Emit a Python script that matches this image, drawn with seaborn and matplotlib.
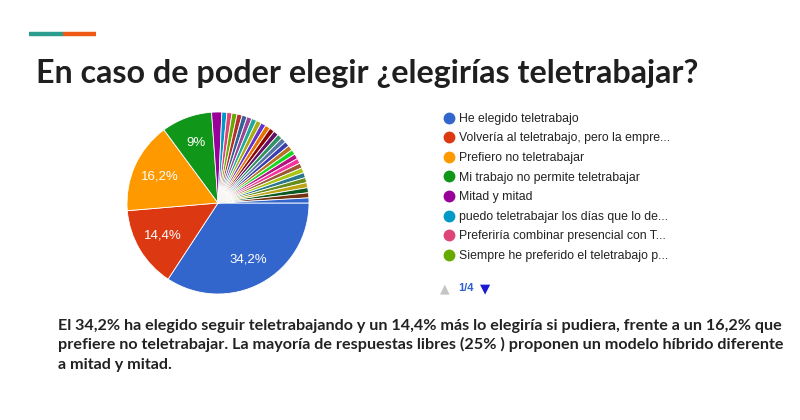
import matplotlib
matplotlib.use("Agg")
import matplotlib.pyplot as plt
from matplotlib.lines import Line2D
import seaborn as sns

# respuestas (111 en total), en el orden de la encuesta
respuestas = [38, 16, 18, 10, 2, 1, 1, 1, 1, 1, 1, 1, 1, 1, 1, 1,
              1, 1, 1, 1, 1, 1, 1, 1, 1, 1, 1, 1, 1, 1, 1, 1]
leyenda = [
    "He elegido teletrabajo",
    "Volvería al teletrabajo, pero la empre...",
    "Prefiero no teletrabajar",
    "Mi trabajo no permite teletrabajar",
    "Mitad y mitad",
    "puedo teletrabajar los días que lo de...",
    "Preferiría combinar presencial con T...",
    "Siempre he preferido el teletrabajo p...",
]
google = ["#3366cc", "#dc3912", "#ff9900", "#109618", "#990099", "#0099c6",
          "#dd4477", "#66aa00", "#b82e2e", "#316395", "#994499", "#22aa99",
          "#aaaa11", "#6633cc", "#e67300", "#8b0707", "#651067", "#329262",
          "#5574a6", "#3b3eac", "#b77322", "#16d620", "#b91383", "#f4359e",
          "#9c5935", "#a9c413", "#2a778d", "#668d1c", "#bea413", "#0c5922",
          "#743411"]

titulo = "En caso de poder elegir ¿elegirías teletrabajar?"
parrafo = [
    "El 34,2% ha elegido seguir teletrabajando y un 14,4% más lo elegiría si pudiera, frente a un 16,2% que",
    "prefiere no teletrabajar. La mayoría de respuestas libres (25% ) proponen un modelo híbrido diferente",
    "a mitad y mitad.",
]

sns.set_theme(style="white")
palette = sns.color_palette(google, n_colors=len(respuestas))
plt.rcParams['font.family'] = ['Liberation Sans', 'DejaVu Sans']

W, H = 800, 420
fig = plt.figure(figsize=(W / 100, H / 100), dpi=100)
fig.patch.set_facecolor("white")

# overlay en pixeles para textos decorativos
bg = fig.add_axes([0, 0, 1, 1])
bg.set_xlim(0, W)
bg.set_ylim(H, 0)
bg.axis("off")
bg.plot([29, 63], [33.5, 33.5], color="#2a9d8f", lw=3.2, solid_capstyle="butt")
bg.plot([63, 96], [33.5, 33.5], color="#ee5a15", lw=3.2, solid_capstyle="butt")
bg.text(36, 83, titulo, fontsize=23.2, fontweight="bold", color="#1f1f1f",
        family=["Lato", "DejaVu Sans"], va="baseline")
for i, linea in enumerate(parrafo):
    bg.text(58, 330 + i * 19.5, linea, fontsize=11.62, fontweight="bold",
            color="#222222", family=["Lato", "DejaVu Sans"], va="baseline")

# tarta
cx, cy, r = 218, 203, 91
ax = fig.add_axes([(cx - r) / W, 1 - (cy + r) / H, 2 * r / W, 2 * r / H])


def etiqueta(p):
    if p < 5:
        return ""
    s = f"{p:.1f}".replace(".", ",")
    return s[:-2] + "%" if s.endswith(",0") else s + "%"


wedges, _, autotexts = ax.pie(
    respuestas, colors=palette, startangle=0, counterclock=False,
    autopct=etiqueta, pctdistance=0.7,
    wedgeprops=dict(edgecolor="white", linewidth=0.6),
    textprops=dict(color="white", fontsize=9.5))
ax.set_aspect("equal")
ax.set_xlim(-1, 1)
ax.set_ylim(-1, 1)

# leyenda (pagina 1/4)
handles = [Line2D([], [], marker="o", ls="", markersize=7.5,
                  markerfacecolor=palette[i], markeredgecolor=palette[i])
           for i in range(len(leyenda))]
fig.legend(handles, leyenda, loc="upper left",
           bbox_to_anchor=(438 / W, 1 - 108 / H), frameon=False,
           fontsize=8.8, labelspacing=0.62, handletextpad=0.35,
           handlelength=1.0, labelcolor="#222222", borderaxespad=0)
bg.text(440, 292, "▲", fontsize=9, color="#c4c4c4", va="baseline",
        family=["DejaVu Sans"])
bg.text(458, 291, "1/4", fontsize=8, color="#2f5fd0", va="baseline",
        fontweight="bold")
bg.text(480, 292, "▼", fontsize=9.5, color="#1a1ad0", va="baseline",
        family=["DejaVu Sans"])

fig.savefig("out.png", dpi=100, facecolor="white")
